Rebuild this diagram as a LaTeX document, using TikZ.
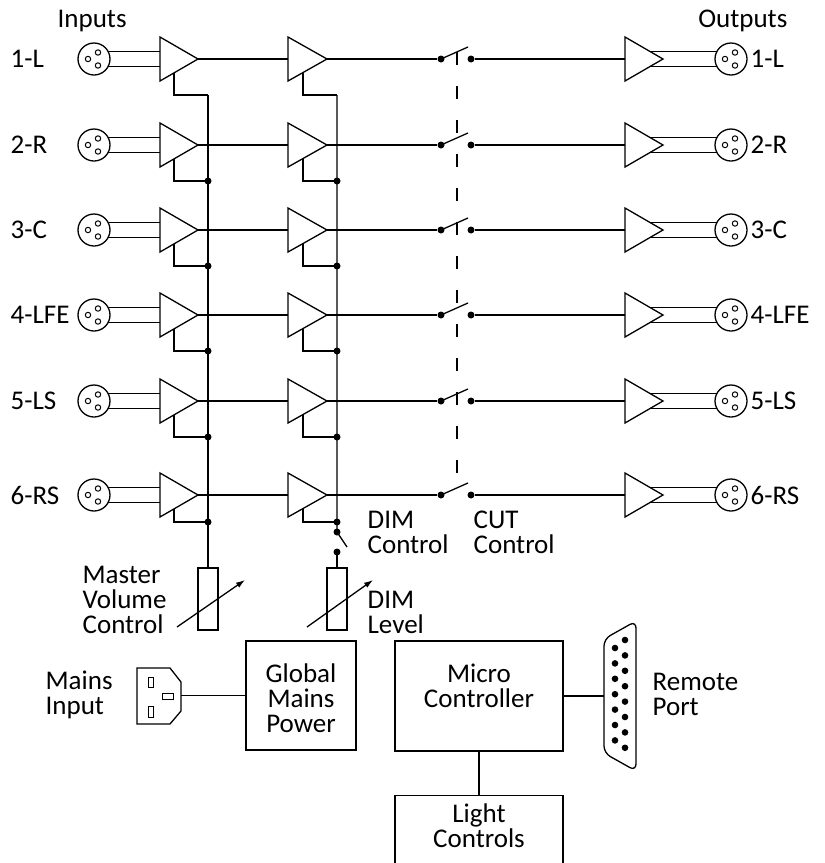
\documentclass[tikz,border=0pt]{standalone}
\usepackage{fontspec}
\setmainfont{Carlito}
\usetikzlibrary{arrows.meta,calc}

\begin{document}
\begin{tikzpicture}[x=1pt,y=-1pt,line width=1.3pt,
  txt/.style={font=\fontsize{27}{25}\selectfont},
  xlr/.style={draw,circle,minimum size=32pt},
  jdot/.style={fill,circle,minimum size=7pt},
  blk/.style={draw,rectangle},
  pot/.style={draw,rectangle,minimum width=20pt,minimum height=62pt},
  fine/.style={line width=1pt}]
\tikzstyle{every node}+=[inner sep=0pt]
\useasboundingbox (0,0) rectangle (825,863);
\node[txt,anchor=base west] (inputs) at (57,27) {Inputs};
\node[txt,anchor=base east] (outputs) at (788,27) {Outputs};
\foreach \n/\y/\t/\f in {1/59/1-L/36,2/145/2-R/36,3/230/3-C/36,4/315/4-LFE/36,5/401/5-LS/36,6/495/6-RS/27} {
  \node[txt,anchor=west] (inlbl\n) at (10,\y) {\t};
  \node[txt,anchor=west] (outlbl\n) at (750,\y) {\t};
  \node[xlr] (xin\n) at (94,\y) {};
  \node[xlr] (xout\n) at (731,\y) {};
  \foreach \c in {xin\n,xout\n}
    \draw[fine] ($(\c)+(-6,0)$) circle[radius=2.7pt] ($(\c)+(4,-6.5)$) circle[radius=2.7pt]
      ($(\c)+(4,6.5)$) circle[radius=2.7pt];
  \coordinate (a\n) at (160,\y);
  \coordinate (b\n) at (198,\y);
  \coordinate (c\n) at (288,\y);
  \coordinate (d\n) at (327,\y);
  \coordinate (o\n) at (625,\y);
  \coordinate (p\n) at (663,\y);
  \coordinate (fa\n) at (208,\y+\f);
  \coordinate (fb\n) at (337,\y+\f);
  \foreach \u/\v in {a/b,c/d,o/p}
    \draw ($(\u\n)+(0,-22)$) -- (\v\n) -- ($(\u\n)+(0,22)$) -- cycle;
  \draw ($(xin\n)+(14,-7.5)$) -- ($(a\n)+(0,-7.5)$) ($(xin\n)+(14,7.5)$) -- ($(a\n)+(0,7.5)$);
  \draw ($(o\n)+(25,-7.5)$) -- ($(xout\n)+(-14,-7.5)$) ($(o\n)+(25,7.5)$) -- ($(xout\n)+(-14,7.5)$);
  \draw (b\n) -- (c\n);
  \node[jdot] (swa\n) at (441,\y) {};
  \node[jdot] (swb\n) at (471,\y) {};
  \draw (d\n) -- (swa\n);
  \draw (swa\n.center) -- ++(27,-12);
  \draw (swb\n) -- (o\n);
  \draw ($(a\n)+(14,13.9)$) |- (fa\n);
  \draw ($(c\n)+(15,13.5)$) |- (fb\n);
}
\foreach \n in {2,...,6} {
  \node[jdot] (ja\n) at (fa\n) {};
  \node[jdot] (jb\n) at (fb\n) {};
}
\coordinate (cuttop) at (457,52);
\coordinate (cutbot) at (457,488);
\draw[dash pattern=on 13pt off 21pt] (cuttop) -- (cutbot);
\node[pot] (mvol) at (208,599) {};
\node[pot] (dimlvl) at (337,599) {};
\node[jdot] (dimsa) at (337,532) {};
\node[jdot] (dimsb) at (337,552) {};
\draw (fa1) -- (mvol.north);
\draw (fb1) -- (dimsa.center) -- ++(10,15);
\draw (dimsb.center) -- (dimlvl.north);
\draw[-{Latex[length=9pt,width=6pt]}] ($(mvol)+(-31,28)$) -- ($(mvol)+(37,-19)$);
\draw[-{Latex[length=9pt,width=6pt]}] ($(dimlvl)+(-30,28)$) -- ($(dimlvl)+(36,-19)$);
\node[txt,anchor=base west,align=left] (dimctl) at (367,553) {DIM\\Control};
\node[txt,anchor=base west,align=left] (cutctl) at (473,553) {CUT\\Control};
\node[txt,anchor=base west,align=left] (mvlbl) at (82,633) {Master\\Volume\\Control};
\node[txt,anchor=base west,align=left] (dimlbl) at (367,633) {DIM\\Level};
\node[blk,minimum width=110pt,minimum height=109pt] (power) at (301,695.5) {};
\node[txt,anchor=base,align=center] (powertxt) at (301,732) {Global\\Mains\\Power};
\draw (137,668) -- (170,668) -- (181,682) -- (181,711) -- (170,724) -- (137,724) -- cycle;
\draw[fine] (148,677) rectangle (153,687) (148,706) rectangle (153,717) (162,693) rectangle (173,699);
\coordinate (iec) at (181,695.5);
\draw (iec) -- (power);
\node[txt,anchor=base west,align=left] (mainslbl) at (45,714) {Mains\\Input};
\node[blk,minimum width=168pt,minimum height=110pt] (micro) at (479,696) {};
\node[txt,anchor=base,align=center] (microtxt) at (479,707) {Micro\\Controller};
\node[blk,minimum width=168pt,minimum height=100pt,anchor=north] (lights) at (479,795) {};
\node[txt,anchor=base,align=center] (lightstxt) at (479,847) {Light\\Controls};
\draw (micro) -- (lights);
\draw[rounded corners=7pt] (604,696) -- (604,639) -- (636,621) -- (636,771) -- (604,753) -- cycle;
\foreach \k in {0,...,7}
  \fill (625,640+15.4*\k) circle[radius=3.3pt];
\foreach \k in {0,...,6}
  \fill (615,648+15.4*\k) circle[radius=3.3pt];
\coordinate (dsub) at (604,696);
\draw (micro) -- (dsub);
\node[txt,anchor=base west,align=left] (remotelbl) at (652,715) {Remote\\Port};
\end{tikzpicture}
\end{document}
